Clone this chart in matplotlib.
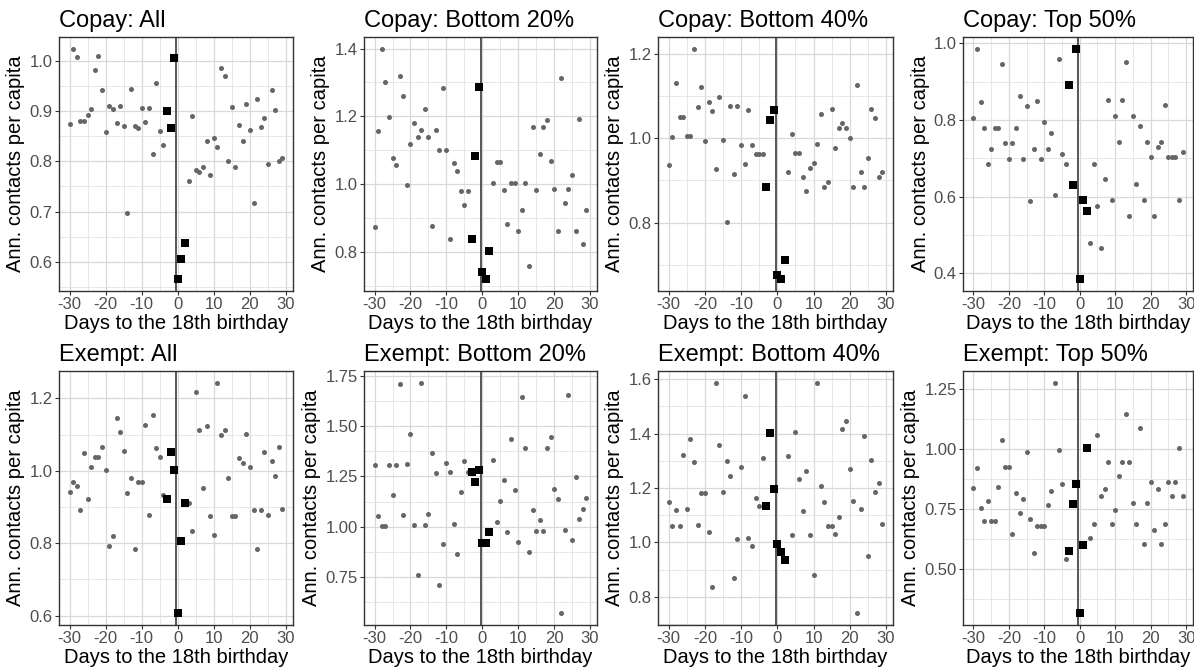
import numpy as np
import matplotlib
matplotlib.use("Agg")
import matplotlib.pyplot as plt
from matplotlib.ticker import FixedLocator, FormatStrFormatter

plt.rcParams['font.family'] = ['Liberation Sans', 'DejaVu Sans']
plt.rcParams['axes.unicode_minus'] = False

# days: gray dots before (-30..-4), black squares around the birthday (-3..2), gray dots after (3..29)
days_before = list(range(-30, -3))
days_near = list(range(-3, 3))
days_after = list(range(3, 30))

titles = ["Copay: All", "Copay: Bottom 20%", "Copay: Bottom 40%", "Copay: Top 50%",
          "Exempt: All", "Exempt: Bottom 20%", "Exempt: Bottom 40%", "Exempt: Top 50%"]

copay_all_before = [0.874, 1.024, 1.008, 0.880, 0.880, 0.891, 0.903, 0.981, 1.009, 0.942, 0.858, 0.909, 0.904, 0.876,
                    0.910, 0.870, 0.698, 0.943, 0.871, 0.866, 0.905, 0.877, 0.905, 0.815, 0.955, 0.860, 0.833]
copay_all_near = [0.900, 0.866, 1.005, 0.565, 0.605, 0.637]
copay_all_after = [0.761, 0.890, 0.783, 0.778, 0.789, 0.840, 0.773, 0.846, 0.829, 0.985, 0.969, 0.801, 0.907, 0.789,
                   0.873, 0.840, 0.913, 0.863, 0.717, 0.924, 0.868, 0.885, 0.795, 0.941, 0.902, 0.801, 0.807]

copay_b20_before = [0.874, 1.158, 1.400, 1.300, 1.198, 1.077, 1.057, 1.320, 1.260, 0.997, 1.118, 1.180, 1.140, 1.161,
                    1.222, 1.140, 0.877, 1.161, 1.100, 1.284, 1.100, 0.837, 1.061, 1.040, 0.980, 0.940, 0.980]
copay_b20_near = [0.837, 1.083, 1.286, 0.740, 0.719, 0.802]
copay_b20_after = [1.004, 1.065, 1.065, 0.984, 0.884, 1.004, 1.004, 0.861, 0.923, 1.004, 0.760, 1.169, 0.984, 1.088,
                   1.169, 1.190, 1.067, 0.985, 0.862, 1.313, 0.945, 0.985, 1.028, 0.862, 1.191, 0.823, 0.925]

copay_b40_before = [0.936, 1.004, 1.130, 1.051, 1.051, 1.006, 1.006, 1.212, 1.074, 1.120, 0.994, 1.086, 1.064, 0.926,
                    1.098, 0.996, 0.801, 1.077, 0.916, 1.077, 0.985, 0.940, 1.066, 0.985, 0.963, 0.963, 0.963]
copay_b40_near = [0.884, 1.044, 1.066, 0.677, 0.666, 0.711]
copay_b40_after = [0.919, 1.011, 0.965, 0.965, 0.908, 0.874, 0.930, 0.941, 0.987, 1.057, 0.885, 0.896, 1.069, 0.977,
                   1.024, 1.035, 1.024, 1.001, 0.885, 1.126, 0.919, 0.885, 0.954, 1.070, 1.047, 0.908, 0.919]

copay_t50_before = [0.806, 0.984, 0.847, 0.779, 0.684, 0.725, 0.779, 0.779, 0.945, 0.739, 0.698, 0.739, 0.780, 0.863,
                    0.698, 0.835, 0.589, 0.725, 0.849, 0.698, 0.795, 0.725, 0.767, 0.603, 0.960, 0.712, 0.685]
copay_t50_near = [0.892, 0.631, 0.986, 0.384, 0.591, 0.562]
copay_t50_after = [0.479, 0.686, 0.576, 0.466, 0.645, 0.852, 0.591, 0.811, 0.743, 0.852, 0.950, 0.550, 0.811, 0.632,
                   0.784, 0.591, 0.743, 0.702, 0.550, 0.730, 0.743, 0.839, 0.702, 0.702, 0.702, 0.591, 0.715]

exempt_all_before = [0.942, 0.969, 0.957, 0.893, 1.049, 0.921, 1.011, 1.038, 1.038, 1.065, 1.001, 0.793, 0.820, 1.146,
                     1.108, 1.056, 0.940, 0.980, 0.784, 0.968, 0.968, 1.128, 0.879, 1.155, 1.064, 1.039, 0.934]
exempt_all_near = [0.922, 1.053, 1.002, 0.606, 0.806, 0.911]
exempt_all_after = [0.912, 0.833, 1.217, 1.112, 0.953, 1.124, 0.874, 0.822, 1.244, 1.100, 1.113, 0.981, 0.876, 0.876,
                    1.036, 1.023, 1.103, 1.010, 0.891, 0.785, 0.891, 1.053, 0.878, 1.026, 0.986, 1.067, 0.894]

exempt_b20_before = [1.307, 1.053, 1.005, 1.005, 1.308, 1.158, 1.308, 1.713, 1.058, 1.310, 1.462, 1.007, 0.757, 1.718,
                     1.010, 1.062, 1.367, 1.265, 0.707, 0.912, 1.318, 1.270, 1.015, 0.863, 1.170, 1.327, 1.273]
exempt_b20_near = [1.273, 1.223, 1.280, 0.918, 0.918, 0.973]
exempt_b20_after = [1.333, 1.023, 1.127, 1.232, 0.973, 1.438, 1.182, 0.923, 1.647, 1.390, 0.873, 1.082, 0.978, 1.032,
                    0.978, 1.393, 1.447, 1.188, 1.138, 0.567, 0.982, 1.658, 0.932, 1.245, 1.037, 1.088, 1.142]

exempt_b40_before = [1.148, 1.061, 1.120, 1.062, 1.322, 1.123, 1.382, 1.296, 1.065, 1.181, 1.181, 1.037, 0.837, 1.588,
                     1.358, 1.186, 1.301, 1.244, 0.868, 1.014, 1.277, 1.540, 1.016, 0.988, 1.164, 1.135, 1.310]
exempt_b40_near = [1.135, 1.401, 1.198, 0.994, 0.966, 0.936]
exempt_b40_after = [1.319, 1.026, 1.407, 1.234, 1.116, 1.263, 1.029, 0.882, 1.588, 1.207, 1.148, 1.061, 1.061, 1.032,
                    1.092, 1.416, 1.445, 1.269, 1.153, 0.739, 1.124, 1.391, 0.949, 1.304, 1.186, 1.217, 1.068]

exempt_t50_before = [0.837, 0.922, 0.755, 0.699, 0.784, 0.699, 0.699, 0.842, 1.039, 0.927, 0.927, 0.648, 0.817, 0.734,
                     0.791, 0.988, 0.707, 0.567, 0.681, 0.681, 0.681, 0.767, 0.824, 1.278, 0.997, 0.856, 0.543]
exempt_t50_near = [0.574, 0.770, 0.856, 0.315, 0.602, 1.004]
exempt_t50_after = [0.631, 0.689, 1.061, 0.803, 0.834, 0.947, 0.689, 0.748, 0.888, 0.947, 1.146, 0.947, 0.776, 0.689,
                    1.090, 0.604, 0.776, 0.863, 0.661, 0.834, 0.604, 0.689, 0.863, 0.806, 0.863, 1.007, 0.806]

before = [copay_all_before, copay_b20_before, copay_b40_before, copay_t50_before,
          exempt_all_before, exempt_b20_before, exempt_b40_before, exempt_t50_before]
near = [copay_all_near, copay_b20_near, copay_b40_near, copay_t50_near,
        exempt_all_near, exempt_b20_near, exempt_b40_near, exempt_t50_near]
after = [copay_all_after, copay_b20_after, copay_b40_after, copay_t50_after,
         exempt_all_after, exempt_b20_after, exempt_b40_after, exempt_t50_after]

y_ticks = [[0.6, 0.7, 0.8, 0.9, 1.0], [0.8, 1.0, 1.2, 1.4], [0.8, 1.0, 1.2], [0.4, 0.6, 0.8, 1.0],
           [0.6, 0.8, 1.0, 1.2], [0.75, 1.0, 1.25, 1.5, 1.75], [0.8, 1.0, 1.2, 1.4, 1.6], [0.5, 0.75, 1.0, 1.25]]
y_fmt = ['%.1f', '%.1f', '%.1f', '%.1f', '%.1f', '%.2f', '%.1f', '%.2f']
x_ticks = [-30, -20, -10, 0, 10, 20, 30]

W, H = 1194, 667
fig = plt.figure(figsize=(W / 100, H / 100), dpi=100)

# panel boxes in pixels: left, top, width, height
lefts = [59, 364, 658, 963]
widths = [234, 233, 235, 230]
tops = [37, 371]
height = 254

for i in range(8):
    r, c = divmod(i, 4)
    ax = fig.add_axes([lefts[c] / W, 1 - (tops[r] + height) / H, widths[c] / W, height / H])

    ax.scatter(days_before, before[i], s=13, color='#666666', linewidths=0, zorder=3)
    ax.scatter(days_after, after[i], s=13, color='#666666', linewidths=0, zorder=3)
    ax.scatter(days_near, near[i], s=34, marker='s', color='black', linewidths=0, zorder=4)
    ax.axvline(-0.5, color='#3A3A3A', lw=1.2, zorder=2)

    ax.set_xlim(-32.95, 31.95)
    allv = before[i] + near[i] + after[i]
    lo, hi = min(allv), max(allv)
    pad = (hi - lo) * 0.05
    ax.set_ylim(lo - pad, hi + pad)

    yt = y_ticks[i]
    step = yt[1] - yt[0]
    ax.yaxis.set_major_locator(FixedLocator(yt))
    ax.yaxis.set_minor_locator(FixedLocator([v + step / 2 for v in [yt[0] - step] + yt]))
    ax.yaxis.set_major_formatter(FormatStrFormatter(y_fmt[i]))
    ax.xaxis.set_major_locator(FixedLocator(x_ticks))
    ax.xaxis.set_minor_locator(FixedLocator([-35, -25, -15, -5, 5, 15, 25, 35]))

    ax.grid(which='major', color='#D9D9D9', lw=0.9, zorder=0)
    ax.grid(which='minor', color='#E3E3E3', lw=0.6, zorder=0)
    ax.set_axisbelow(True)
    ax.tick_params(which='major', length=3, width=0.8, color='#333333', labelsize=12,
                   labelcolor='#4D4D4D', pad=1.5)
    ax.tick_params(which='minor', length=0)
    for sp in ax.spines.values():
        sp.set_color('#333333')
        sp.set_linewidth(1.0)

    ax.set_title(titles[i], loc='left', fontsize=17, pad=7)
    ax.set_xlabel('Days to the 18th birthday', fontsize=14.5, labelpad=1)
    ax.set_ylabel('Ann. contacts per capita', fontsize=14.5, labelpad=3)

fig.savefig('out.png', dpi=100)
